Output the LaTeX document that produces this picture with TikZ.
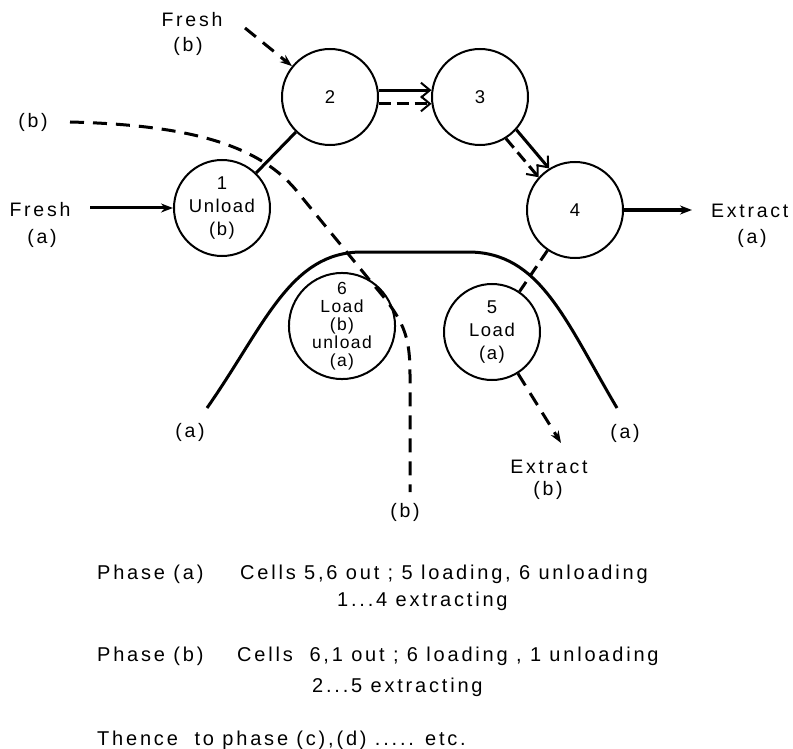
\documentclass[tikz,border=0pt]{standalone}
\usepackage{fontspec}
\setmainfont[LetterSpace=8]{Liberation Sans}
\newfontfamily\widefont[LetterSpace=14]{Liberation Sans}
\usetikzlibrary{arrows.meta}
\tikzset{
  cell/.style={circle, draw, line width=2pt, minimum size=96pt, inner sep=0pt, align=center, font=\fontsize{18.5}{23}\selectfont},
  lbl/.style={inner sep=0pt, font=\widefont\fontsize{19.5}{22}\selectfont},
  txt/.style={inner sep=0pt, anchor=west, font=\widefont\fontsize{20}{22}\selectfont},
  solidline/.style={line width=3pt},
  dashline/.style={line width=3pt, dash pattern=on 14pt off 9pt},
  tipfill/.style={-{Stealth[length=12pt,width=9pt]}},
  tipopen/.style={-{Straight Barb[length=9pt,width=15pt,line width=2pt]}}
}
\begin{document}
\begin{tikzpicture}[x=1pt,y=-1pt]
\useasboundingbox (0,0) rectangle (793,749);
% cells
\node[cell] (n1) at (222,208) {1\\Unload\\(b)};
\node[cell] (n2) at (330,97) {2};
\node[cell] (n3) at (480,97) {3};
\node[cell] (n4) at (575,210) {4};
\node[cell] (n5) at (492,332) {5\\Load\\(a)};
\node[cell, font=\fontsize{17.5}{18}\selectfont] (n6) at (342,326) {6\\Load\\(b)\\unload\\(a)};
% labels
\node[lbl] (lfb1) at (192,20) {Fresh};
\node[lbl] (lfb2) at (188,46) {(b)};
\node[lbl] (lbl) at (33,122) {(b)};
\node[lbl] (lfa1) at (40,210) {Fresh};
\node[lbl] (lfa2) at (42,238) {(a)};
\node[lbl, anchor=west] (lea1) at (711,211) {Extract};
\node[lbl] (lea2) at (752,238) {(a)};
\node[lbl] (lal) at (190,432) {(a)};
\node[lbl] (lar) at (625,433) {(a)};
\node[lbl] (leb1) at (549,467) {Extract};
\node[lbl] (leb2) at (548,490) {(b)};
\node[lbl] (lbb) at (405,512) {(b)};
% free ends
\coordinate (fa) at (90,208);
\coordinate (fb) at (245,28);
\coordinate (ea) at (692,210);
\coordinate (eb) at (561,443);
\coordinate (bs) at (70,122);
\coordinate (be) at (410,492);
\coordinate (as) at (207,408);
\coordinate (ae) at (617,408);
% solid (a) boundary
\draw[solidline] (as) .. controls (265,325) and (290,252) .. (362,252) -- (468,252) .. controls (540,252) and (565,320) .. (ae);
% dashed (b) boundary
\draw[dashline] (bs) .. controls (190,125) and (262,145) .. (300,195) -- (372,283) .. controls (404,320) and (410,335) .. (410,375) -- (be);
% connectors
\draw[solidline, tipfill] (fa) -- (n1);
\draw[dashline, tipfill] (fb) -- (n2);
\draw[solidline] (n1) -- (n2);
\draw[solidline, tipopen] (n2.8) -- (n3.172);
\draw[dashline, tipopen, dash pattern=on 12pt off 6pt] (n2.-8) -- (n3.-172);
\draw[solidline, tipopen] (n3.-42) -- (n4.122);
\draw[dashline, tipopen, dash pattern=on 12pt off 6pt] (n3.-58) -- (n4.138);
\draw[solidline, tipfill] (n4.east) -- (ea);
\draw[dashline, dash pattern=on 12pt off 7pt] (n4) -- (n5);
\draw[dashline, tipfill] (n5.-58) -- (eb);
% bottom text
\node[txt] (pa) at (97,574) {Phase (a)};
\node[txt] (pa2) at (240,574) {Cells 5,6 out ; 5 loading, 6 unloading};
\node[txt] (pa3) at (337,601) {1...4 extracting};
\node[txt] (pb) at (97,656) {Phase (b)};
\node[txt] (pb2) at (237,656) {Cells\ \ 6,1 out ; 6 loading , 1 unloading};
\node[txt] (pb3) at (312,687) {2...5 extracting};
\node[txt] (th) at (97,740) {Thence\ \ to phase (c),(d) ..... etc.};
\end{tikzpicture}
\end{document}
